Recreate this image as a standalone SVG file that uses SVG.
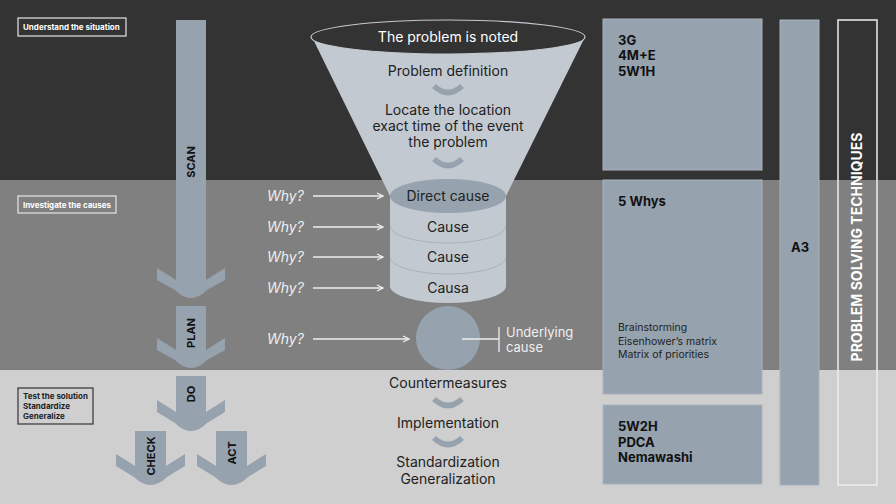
<svg xmlns="http://www.w3.org/2000/svg" width="896" height="504" viewBox="0 0 896 504">
<defs>
<style>
.t{font-family:Inter,"Liberation Sans",sans-serif}
.lbl{font-family:Inter,"Liberation Sans",sans-serif;font-size:8px;font-weight:700}
.arr{fill:#96a2ae}
.alab{font-family:Inter,"Liberation Sans",sans-serif;font-size:11px;font-weight:700;fill:#111}
.ft{font-family:Inter,"Liberation Sans",sans-serif;font-size:14px;fill:#222;text-anchor:middle}
.why{font-family:Inter,"Liberation Sans",sans-serif;font-size:14px;font-style:italic;fill:#eee}
.wl{stroke:#eee;stroke-width:1.3;fill:none}
.chev{fill:none;stroke:#96a2ae;stroke-width:5.5}
.box{fill:#96a2ae;stroke:#aab3bc;stroke-width:1}
.bt{font-family:Inter,"Liberation Sans",sans-serif;font-size:13px;font-weight:700;fill:#111}
.st{font-family:Inter,"Liberation Sans",sans-serif;font-size:10.5px;fill:#222}
</style>
<marker id="ah" viewBox="0 0 8 8" refX="7" refY="4" markerWidth="8" markerHeight="8" markerUnits="userSpaceOnUse" orient="auto">
<path d="M1,1 L7,4 L1,7" fill="none" stroke="#eee" stroke-width="1.2"/>
</marker>
</defs>
<rect x="0" y="0" width="896" height="180" fill="#333333"/>
<rect x="0" y="180" width="896" height="190" fill="#808080"/>
<rect x="0" y="370" width="896" height="134" fill="#cfcfcf"/>

<g id="label-understand">
<rect x="18" y="18" width="108" height="18" fill="none" stroke="#e6e6e6" stroke-width="1.2"/>
<text class="lbl" x="23" y="30" fill="#fff">Understand the situation</text>
</g>
<g id="label-investigate">
<rect x="18" y="196" width="98" height="17" fill="none" stroke="#e6e6e6" stroke-width="1.2"/>
<text class="lbl" x="23" y="207.5" fill="#fff">Investigate the causes</text>
</g>
<g id="label-test">
<rect x="18" y="388" width="75" height="36" fill="none" stroke="#333" stroke-width="1.2"/>
<text class="lbl" x="23" y="399" fill="#222">Test the solution</text>
<text class="lbl" x="23" y="409" fill="#222">Standardize</text>
<text class="lbl" x="23" y="419" fill="#222">Generalize</text>
</g>

<g id="scan">
<path class="arr" d="M176,20 H206 V280 L225,268 V280 L207,290 Q191,306 175,290 L157,280 V268 L176,280 Z"/>
<text class="alab" transform="translate(195,162) rotate(-90)" text-anchor="middle">SCAN</text>
</g>
<g id="plan">
<path class="arr" d="M176,306 H206 V350 L225,338 V350 L207,360 Q191,376 175,360 L157,350 V338 L176,350 Z"/>
<text class="alab" transform="translate(195,333) rotate(-90)" text-anchor="middle">PLAN</text>
</g>
<g id="do">
<path class="arr" d="M176,376 H206 V412 L225,400 V412 L207,423 Q191,439 175,423 L157,412 V400 L176,412 Z"/>
<text class="alab" transform="translate(195,394) rotate(-90)" text-anchor="middle">DO</text>
</g>
<g id="check">
<path class="arr" d="M135,431 H166 V466 L185,454 V466 L167,477 Q150.5,493 134,477 L116,466 V454 L135,466 Z"/>
<text class="alab" transform="translate(154.5,456) rotate(-90)" text-anchor="middle">CHECK</text>
</g>
<g id="act">
<path class="arr" d="M216,431 H247 V466 L266,454 V466 L248,477 Q231.5,493 215,477 L197,466 V454 L216,466 Z"/>
<text class="alab" transform="translate(235.5,453) rotate(-90)" text-anchor="middle">ACT</text>
</g>

<g id="funnel">
<path d="M312,37 L585,37 L506,196 L390,196 Z" fill="#c3c9d0"/>
<ellipse cx="448" cy="37" rx="137" ry="17" fill="#333" stroke="#c3c9d0" stroke-width="1.2"/>
<text class="ft" x="448" y="42" style="fill:#fff">The problem is noted</text>
<text class="ft" x="448" y="76">Problem definition</text>
<path class="chev" d="M434,86 Q448,99 462,86"/>
<text class="ft" x="448" y="115">Locate the location</text>
<text class="ft" x="448" y="131">exact time of the event</text>
<text class="ft" x="448" y="147">the problem</text>
<path class="chev" d="M434,159 Q448,172 462,159"/>
</g>

<g id="cylinder">
<path d="M390,196 V286 A58,17 0 0 0 506,286 V196 Z" fill="#c3c9d0"/>
<path d="M390,226 A58,17 0 0 0 506,226 M390,257 A58,17 0 0 0 506,257" fill="none" stroke="#a9b1ba" stroke-width="1"/>
<ellipse cx="448" cy="196" rx="58" ry="17" fill="#96a2ae"/>
<text class="ft" x="448" y="201">Direct cause</text>
<text class="ft" x="448" y="232">Cause</text>
<text class="ft" x="448" y="262">Cause</text>
<text class="ft" x="448" y="293">Causa</text>
</g>

<g id="underlying">
<circle cx="448" cy="338" r="32" fill="#96a2ae"/>
<path d="M462,339 H499 M499,327 V352" stroke="#eee" stroke-width="1.3" fill="none"/>
<text class="t" x="506" y="337" font-size="13" fill="#eee">Underlying</text>
<text class="t" x="506" y="352" font-size="13" fill="#eee">cause</text>
</g>

<g id="whys">
<text class="why" x="267" y="201">Why?</text>
<text class="why" x="267" y="232">Why?</text>
<text class="why" x="267" y="262">Why?</text>
<text class="why" x="267" y="293">Why?</text>
<text class="why" x="267" y="344">Why?</text>
</g>

<g id="connectors">
<line class="wl" x1="313" y1="196" x2="383" y2="196" marker-end="url(#ah)"/>
<line class="wl" x1="313" y1="227" x2="383" y2="227" marker-end="url(#ah)"/>
<line class="wl" x1="313" y1="257" x2="383" y2="257" marker-end="url(#ah)"/>
<line class="wl" x1="313" y1="288" x2="383" y2="288" marker-end="url(#ah)"/>
<line class="wl" x1="313" y1="339" x2="409" y2="339" marker-end="url(#ah)"/>
</g>

<g id="solution-steps">
<text class="ft" x="448" y="388">Countermeasures</text>
<path class="chev" d="M434,399 Q448,412 462,399"/>
<text class="ft" x="448" y="428">Implementation</text>
<path class="chev" d="M434,438 Q448,451 462,438"/>
<text class="ft" x="448" y="467">Standardization</text>
<text class="ft" x="448" y="484">Generalization</text>
</g>

<g id="box-3g">
<rect class="box" x="603" y="19" width="159" height="151"/>
<text class="bt" x="618" y="45">3G</text>
<text class="bt" x="618" y="60">4M+E</text>
<text class="bt" x="618" y="76">5W1H</text>
</g>
<g id="box-5whys">
<rect class="box" x="603" y="180" width="159" height="214"/>
<text class="bt" x="618" y="206">5 Whys</text>
<text class="st" x="618" y="331">Brainstorming</text>
<text class="st" x="618" y="344.5">Eisenhower’s matrix</text>
<text class="st" x="618" y="358">Matrix of priorities</text>
</g>
<g id="box-5w2h">
<rect class="box" x="603" y="405" width="159" height="79"/>
<text class="bt" x="618" y="431">5W2H</text>
<text class="bt" x="618" y="447">PDCA</text>
<text class="bt" x="618" y="462">Nemawashi</text>
</g>
<g id="a3">
<rect x="780" y="20" width="39" height="465" fill="#96a2ae" stroke="#aab3bc" stroke-width="1"/>
<text class="bt" x="800" y="252" text-anchor="middle">A3</text>
</g>
<g id="techniques">
<rect x="838" y="20" width="39" height="465" fill="none" stroke="#eee" stroke-width="1.5"/>
<text class="t" transform="translate(862,247) rotate(-90)" text-anchor="middle" font-size="14" font-weight="700" fill="#fff">PROBLEM SOLVING TECHNIQUES</text>
</g>
</svg>
